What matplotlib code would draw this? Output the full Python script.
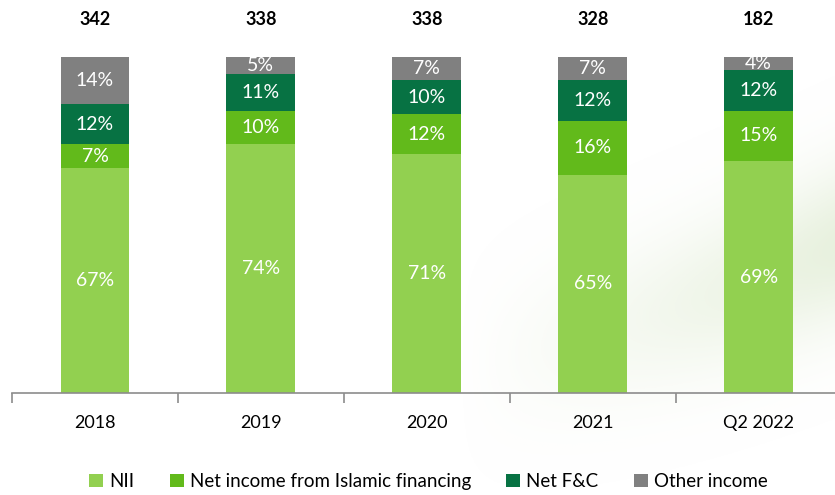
import numpy as np
import matplotlib.pyplot as plt

# Operating income mix by year (% of total) and total income
periods = ['2018', '2019', '2020', '2021', 'Q2 2022']
totals = [342, 338, 338, 328, 182]
nii = [67, 74, 71, 65, 69]
islamic = [7, 10, 12, 16, 15]
net_fc = [12, 11, 10, 12, 12]
other = [14, 5, 7, 7, 4]

series = [
    ('NII', nii, '#92D050'),
    ('Net income from Islamic financing', islamic, '#62BA1B'),
    ('Net F&C', net_fc, '#077243'),
    ('Other income', other, '#808080'),
]

plt.rcParams['font.family'] = ['Lato', 'DejaVu Sans']

fig = plt.figure(figsize=(8.35, 4.95), dpi=100)
fig.patch.set_facecolor('white')

# faint green swoosh in the lower right background
bg = fig.add_axes([0, 0, 1, 1], zorder=-1)
yy, xx = np.mgrid[0:1:300j, 0:1:500j]
band = np.exp(-((yy - (0.15 + 0.35 * xx ** 2)) / 0.16) ** 2) * np.clip((xx - 0.55) / 0.45, 0, 1)
rgba = np.zeros((300, 500, 4))
rgba[..., 0] = 0.80
rgba[..., 1] = 0.88
rgba[..., 2] = 0.72
rgba[..., 3] = 0.45 * band
bg.imshow(rgba, extent=[0, 1, 0, 1], aspect='auto', origin='lower')
bg.axis('off')

ax = fig.add_axes([0.0144, 0.206, 0.9856, 0.679])
ax.patch.set_alpha(0)
x = np.arange(len(periods))
bottom = np.zeros(len(periods))
for name, vals, color in series:
    vals = np.array(vals)
    ax.bar(x, vals, width=0.415, bottom=bottom, color=color, label=name)
    for xi, b, v in zip(x, bottom, vals):
        ax.text(xi, b + v / 2, f'{v}%', ha='center', va='center',
                color='white', fontsize=14)
    bottom += vals

for xi, t in zip(x, totals):
    ax.text(xi, 111.0, str(t), ha='center', va='center', fontsize=13,
            fontweight='bold', color='black', clip_on=False)

ax.set_xlim(-0.5, 4.46)
ax.set_ylim(0, 100)
ax.set_yticks([])
for s in ['top', 'right', 'left']:
    ax.spines[s].set_visible(False)
ax.spines['bottom'].set_color('#8C8C8C')
ax.spines['bottom'].set_linewidth(1.2)

ax.set_xticks(x)
ax.set_xticklabels(periods, fontsize=13)
ax.tick_params(axis='x', length=0, pad=16)
ax.set_xticks(np.arange(len(periods)) - 0.5, minor=True)
ax.tick_params(axis='x', which='minor', length=7, color='#8C8C8C', width=1.2)

fig.legend(loc='center', bbox_to_anchor=(0.513, 0.027), ncol=4, frameon=False,
           fontsize=13.5, handlelength=0.75, handleheight=0.75,
           handletextpad=0.3, columnspacing=1.9)

fig.savefig('out.png', dpi=100)
